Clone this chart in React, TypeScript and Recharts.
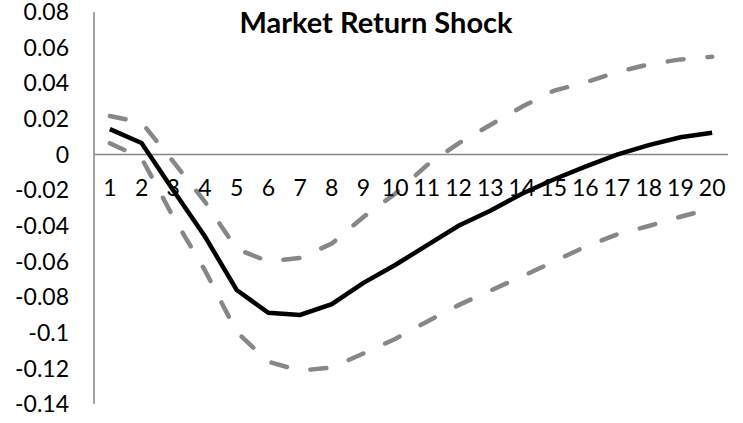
import React from 'react';
import { LineChart, Line, XAxis, YAxis, ReferenceLine } from 'recharts';

/* ── Data ────────────────────────────────────────────────── */
const horizons = ['1', '2', '3', '4', '5', '6', '7', '8', '9', '10', '11', '12', '13', '14', '15', '16', '17', '18', '19', '20'];
const response = [0.0143, 0.0065, -0.02, -0.046, -0.076, -0.0888, -0.09, -0.084, -0.072, -0.062, -0.051, -0.04, -0.0315, -0.022, -0.014, -0.0068, 0, 0.0053, 0.0097, 0.0122];
const upperBand = [0.0216, 0.018, -0.004, -0.0265, -0.053, -0.06, -0.058, -0.05, -0.035, -0.022, -0.006, 0.0063, 0.0166, 0.0268, 0.0358, 0.0405, 0.0463, 0.0506, 0.0534, 0.0549];
const lowerBand = [0.0063, -0.002, -0.035, -0.065, -0.0995, -0.1163, -0.1213, -0.1195, -0.1116, -0.1035, -0.0938, -0.0845, -0.0764, -0.0684, -0.0601, -0.0517, -0.0448, -0.0401, -0.0349, -0.0302];
const yTicks = [0.08, 0.06, 0.04, 0.02, 0, -0.02, -0.04, -0.06, -0.08, -0.1, -0.12, -0.14];
const title = 'Market Return Shock';

const rows = horizons.map((h, i) => ({
  h,
  response: response[i],
  upper: upperBand[i],
  lower: lowerBand[i],
}));

/* ── Styling ─────────────────────────────────────────────── */
const W = 743;
const H = 423;
const FONT = "Lato, 'Open Sans', sans-serif";
const AXIS_GREY = '#868686';
const BAND_GREY = '#878787';
const LABEL_SHIFT = 216; // category labels sit just under the zero line
const HALF_BAND = 15.85;

const fmt = (v: number) => String(Math.round(v * 100) / 100);

const renderCategoryTick = (props: any) => {
  const { x, y, payload } = props;
  return (
    <text
      key={`cat-${payload.value}`}
      x={x}
      y={y - LABEL_SHIFT}
      dy="0.36em"
      textAnchor="middle"
      fontFamily={FONT}
      fontSize={23}
      fill="#000"
    >
      {payload.value}
    </text>
  );
};

export default function App() {
  return (
    <div style={{ position: 'absolute', left: 0, top: 0, width: W, height: H, background: '#fff' }}>
      <LineChart width={W} height={H} data={rows} margin={{ top: 12, right: 15, bottom: 0, left: 0 }}>
        <XAxis
          dataKey="h"
          height={19}
          axisLine={false}
          tickLine={false}
          tickSize={0}
          tickMargin={0}
          interval={0}
          padding={{ left: HALF_BAND, right: HALF_BAND }}
          tick={renderCategoryTick}
        />
        <YAxis
          width={94}
          domain={[-0.14, 0.08]}
          ticks={yTicks}
          interval={0}
          tickFormatter={fmt}
          tickLine={false}
          tickSize={0}
          tickMargin={25}
          axisLine={{ stroke: AXIS_GREY, strokeWidth: 1.5 }}
          tick={{ fontFamily: FONT, fontSize: 23, fill: '#000' }}
        />
        <ReferenceLine y={0} stroke={AXIS_GREY} strokeWidth={1.5} />
        <Line
          dataKey="upper"
          type="linear"
          stroke={BAND_GREY}
          strokeWidth={4.5}
          strokeDasharray="16 24"
          strokeLinecap="round"
          dot={false}
          isAnimationActive={false}
        />
        <Line
          dataKey="lower"
          type="linear"
          stroke={BAND_GREY}
          strokeWidth={4.5}
          strokeDasharray="16 24"
          strokeLinecap="round"
          dot={false}
          isAnimationActive={false}
        />
        <Line
          dataKey="response"
          type="linear"
          stroke="#000"
          strokeWidth={4.5}
          dot={false}
          isAnimationActive={false}
        />
      </LineChart>
      <div
        style={{
          position: 'absolute',
          left: 226,
          top: 2,
          width: 300,
          textAlign: 'center',
          fontFamily: FONT,
          fontWeight: 700,
          fontSize: 29,
          lineHeight: '40px',
          color: '#000',
          whiteSpace: 'nowrap',
        }}
      >
        {title}
      </div>
    </div>
  );
}
